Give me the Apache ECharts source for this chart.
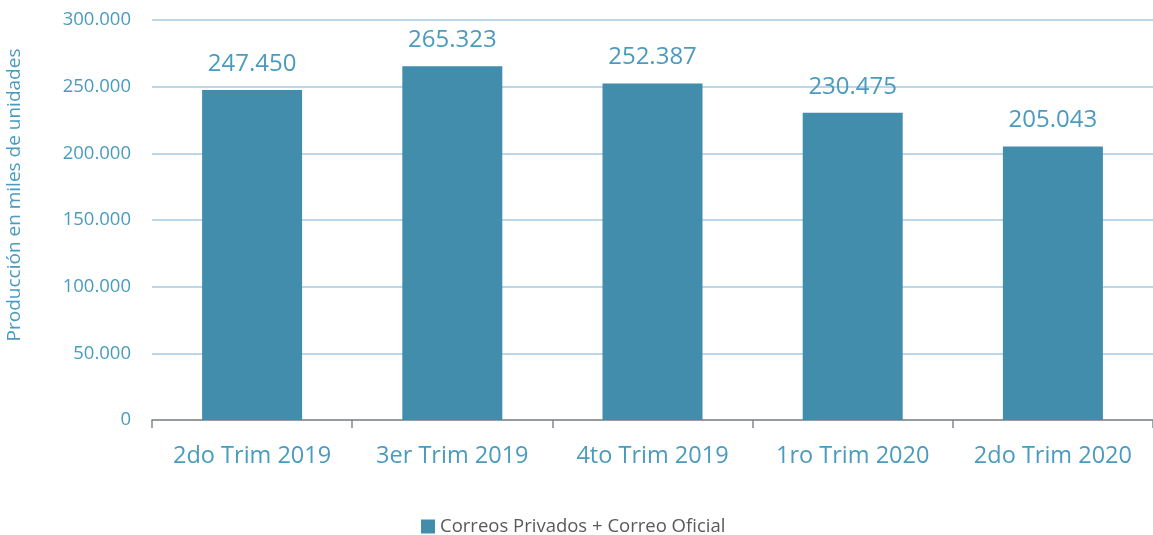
<!DOCTYPE html>
<html>
<head>
    <meta charset="UTF-8">
    <title>Producción</title>
    <script src="https://cdn.jsdelivr.net/npm/echarts@6/dist/echarts.min.js"></script>
    <style>
        html, body { margin: 0; padding: 0; background: #fff; }
    </style>
</head>
<body>
    <div id="main" style="width: 1153px;height:535px;"></div>
    <script>
        var categories = ['2do Trim 2019', '3er Trim 2019', '4to Trim 2019', '1ro Trim 2020', '2do Trim 2020'];
        var values = [247450, 265323, 252387, 230475, 205043];
        var seriesName = 'Correos Privados + Correo Oficial';

        function fmtMiles(v) {
            return String(Math.round(v)).replace(/\B(?=(\d{3})+(?!\d))/g, '.');
        }

        var chartDemo = echarts.init(document.getElementById('main'));
        chartDemo.setOption({
            animation: false,
            textStyle: { fontFamily: 'Open Sans' },
            grid: { left: 152, right: 0, top: 20, bottom: 115, outerBoundsMode: 'none' },
            legend: {
                data: [seriesName],
                bottom: -6,
                left: 416,
                icon: 'rect',
                itemWidth: 14,
                itemHeight: 14,
                itemGap: 6,
                textStyle: { color: '#595959', fontSize: 18.5, fontFamily: 'Open Sans' }
            },
            xAxis: {
                type: 'category',
                data: categories,
                axisLine: { lineStyle: { color: '#888888', width: 1.5 } },
                axisTick: { show: true, length: 8, alignWithLabel: false, lineStyle: { color: '#888888', width: 1.5 } },
                axisLabel: { color: '#4A9BBF', fontSize: 23.5, margin: 24, interval: 0 }
            },
            yAxis: {
                type: 'value',
                min: 0,
                max: 300000,
                interval: 50000,
                name: 'Producción en miles de unidades',
                nameLocation: 'middle',
                nameGap: 128,
                nameTextStyle: { color: '#4A9BBF', fontSize: 19, padding: [0, 0, 0, 50] },
                axisLine: { show: false },
                axisTick: { show: false },
                splitLine: { lineStyle: { color: '#A6CBE0', width: 1.5 } },
                axisLabel: { color: '#4A9BBF', fontSize: 18.5, margin: 21, formatter: fmtMiles }
            },
            series: [{
                type: 'bar',
                name: seriesName,
                data: values,
                barWidth: 100,
                itemStyle: { color: '#428DAC' },
                label: {
                    show: true,
                    position: 'top',
                    distance: 14,
                    color: '#4A9BBF',
                    fontSize: 24,
                    formatter: function (p) { return fmtMiles(p.value); }
                }
            }]
        });
    </script>
</body>
</html>
